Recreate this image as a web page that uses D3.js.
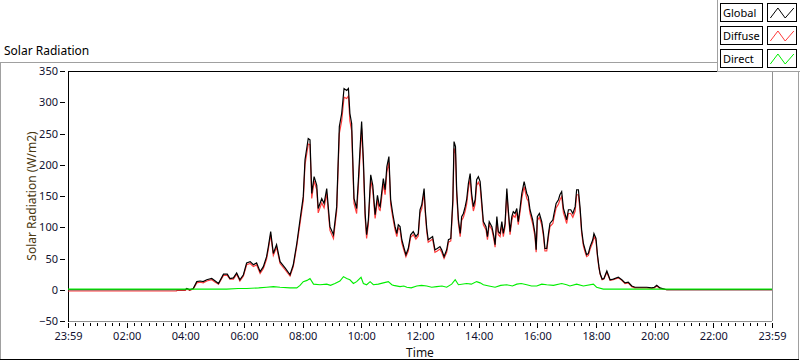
<!DOCTYPE html>
<html>
<head>
<meta charset="utf-8">
<script src="https://cdn.jsdelivr.net/npm/d3@7"></script>
<style>
body { margin: 0; background: #fff; }
svg { display: block; font-family: "Noto Sans", sans-serif; }
</style>
</head>
<body>
<div id="chart"></div>
<script>
// values, time in hours after 23:59 of the day before
var timeHours = [0, 3.70, 3.72, 4.00, 4.05, 4.15, 4.27, 4.39, 4.50, 4.61, 4.73, 4.90, 5.02, 5.13, 5.30, 5.43, 5.52, 5.64, 5.75, 5.86, 5.98,
  6.09, 6.21, 6.32, 6.43, 6.55, 6.66, 6.77, 6.83, 6.91, 7.00, 7.11, 7.23, 7.40, 7.57, 7.68, 7.80, 7.91, 8.02, 8.08, 8.19, 8.25,
  8.31, 8.39, 8.48, 8.53, 8.65, 8.73, 8.82, 8.93, 9.05, 9.16, 9.25, 9.33, 9.41, 9.50, 9.56, 9.61, 9.67, 9.75, 9.84, 9.90, 9.96,
  10.01, 10.07, 10.13, 10.18, 10.24, 10.32, 10.39, 10.47, 10.55, 10.61, 10.64, 10.69, 10.75, 10.81, 10.87, 10.94, 11.00, 11.07,
  11.15, 11.21, 11.26, 11.32, 11.38, 11.46, 11.52, 11.60, 11.68, 11.77, 11.86, 11.94, 12.00, 12.06, 12.14, 12.18, 12.23, 12.28,
  12.34, 12.43, 12.51, 12.59, 12.68, 12.74, 12.82, 12.91, 12.97, 13.05, 13.12, 13.16, 13.21, 13.25, 13.31, 13.37, 13.42, 13.48,
  13.54, 13.59, 13.65, 13.71, 13.76, 13.82, 13.88, 13.93, 13.99, 14.05, 14.10, 14.16, 14.25, 14.30, 14.36, 14.45, 14.52, 14.56,
  14.62, 14.67, 14.73, 14.79, 14.84, 14.90, 14.96, 15.01, 15.07, 15.13, 15.18, 15.24, 15.30, 15.35, 15.41, 15.47, 15.55, 15.64,
  15.69, 15.75, 15.84, 15.92, 15.96, 16.00, 16.07, 16.15, 16.21, 16.26, 16.32, 16.38, 16.43, 16.53, 16.57, 16.64, 16.72, 16.77,
  16.83, 16.89, 16.94, 17.00, 17.06, 17.14, 17.21, 17.29, 17.34, 17.40, 17.46, 17.51, 17.57, 17.63, 17.68, 17.74, 17.80, 17.89,
  17.93, 18.00, 18.05, 18.10, 18.14, 18.21, 18.27, 18.37, 18.48, 18.59, 18.76, 18.88, 18.99, 19.10, 19.22, 19.33, 19.73, 19.90,
  19.99, 20.07, 20.18, 20.41, 24]

var globalVals = [0, 0, 0, 0, 2, 0, 2, 13, 14, 13, 16, 18, 14, 10, 25, 25, 18, 19, 27, 16, 24,
  43, 45, 40, 43, 29, 37, 53, 69, 93, 58, 72, 45, 35, 24, 40, 74, 112, 149, 208, 242, 240,
  154, 181, 167, 130, 146, 138, 162, 101, 88, 133, 261, 282, 322, 319, 322, 282, 266, 146, 130, 176, 229,
  269, 208, 122, 88, 112, 184, 167, 120, 151, 135, 133, 154, 178, 160, 197, 213, 144, 122,
  101, 90, 104, 101, 80, 66, 56, 66, 88, 93, 85, 90, 128, 136, 162, 128, 98, 80,
  82, 85, 64, 66, 69, 64, 53, 64, 80, 82, 144, 237, 229, 160, 112, 90, 117, 122,
  133, 144, 170, 186, 154, 133, 144, 176, 181, 173, 144, 109, 101, 85, 109, 101, 85, 72,
  117, 93, 90, 109, 90, 106, 162, 128, 93, 117, 125, 122, 130, 109, 130, 154, 173, 154,
  149, 128, 112, 90, 64, 117, 122, 109, 90, 66, 66, 90, 106, 112, 122, 138, 144, 152,
  157, 130, 122, 112, 128, 128, 122, 133, 160, 160, 130, 96, 74, 64, 56, 58, 69, 80,
  90, 82, 56, 37, 26, 17, 18, 30, 16, 17, 20, 16, 11, 12, 6, 4, 4, 3,
  4, 7, 3, 0, 0]

var diffuseVals = [-2, -2, -1, -1, 1, -1, 1, 11, 12, 11, 14, 16, 12, 9, 23, 23, 17, 17, 25, 14, 22,
  40, 42, 37, 40, 26, 34, 49, 65, 88, 55, 68, 42, 32, 22, 37, 70, 106, 142, 200, 233, 232,
  146, 174, 160, 123, 139, 131, 154, 95, 82, 126, 250, 270, 308, 306, 310, 270, 254, 138, 122, 167, 218,
  258, 198, 115, 82, 105, 175, 159, 114, 143, 128, 127, 146, 170, 152, 188, 204, 137, 116,
  96, 85, 99, 96, 75, 62, 53, 62, 84, 88, 81, 86, 122, 130, 155, 122, 93, 76,
  78, 81, 60, 62, 65, 60, 50, 60, 76, 78, 137, 226, 218, 152, 106, 85, 111, 116,
  126, 137, 162, 177, 146, 126, 137, 167, 172, 165, 137, 104, 96, 80, 104, 96, 80, 68,
  111, 88, 85, 104, 85, 101, 154, 122, 88, 111, 119, 116, 124, 104, 124, 146, 165, 146,
  142, 122, 106, 85, 60, 111, 116, 104, 85, 62, 62, 85, 101, 106, 116, 131, 137, 144,
  149, 123, 116, 106, 122, 122, 116, 126, 152, 152, 124, 91, 70, 60, 53, 55, 65, 76,
  86, 78, 53, 35, 25, 16, 17, 28, 15, 16, 19, 15, 10, 11, 5, 3, 3, 2,
  3, 6, 2, 0, 0]

var directHours = [0, 3.82, 5.41, 5.80, 6.09, 6.50, 6.77, 7.00, 7.23, 7.57, 7.80, 7.91, 8.02, 8.15, 8.25, 8.37, 8.59, 8.82,
  8.95, 9.10, 9.27, 9.39, 9.50, 9.61, 9.73, 9.84, 9.99, 10.07, 10.18, 10.30, 10.41, 10.58, 10.75, 10.92, 11.04, 11.10,
  11.32, 11.45, 11.55, 11.70, 11.89, 12.05, 12.23, 12.40, 12.57, 12.75, 12.91, 13.08, 13.20, 13.31, 13.59, 13.75, 13.93,
  14.05, 14.16, 14.35, 14.56, 14.75, 14.96, 15.15, 15.30, 15.45, 15.64, 15.80, 15.98, 16.15, 16.32, 16.55, 16.83, 17.00,
  17.11, 17.34, 17.57, 17.91, 18.02, 18.25, 24]
var directVals = [1, 1, 1, 2, 2, 3, 4, 5, 4, 3, 3, 7, 13, 15, 18, 9, 8, 9,
  7, 10, 14, 21, 18, 16, 10, 13, 20, 10, 8, 13, 8, 9, 11, 13, 8, 7,
  5, 6, 4, 3, 6, 7, 6, 4, 5, 6, 4, 9, 16, 8, 10, 9, 13,
  11, 8, 6, 4, 7, 8, 6, 9, 10, 8, 6, 6, 9, 8, 7, 10, 8,
  6, 9, 6, 9, 4, 1, 1]

var yTicks = [-50, 0, 50, 100, 150, 200, 250, 300, 350]
var xTickHours = [0, 2, 4, 6, 8, 10, 12, 14, 16, 18, 20, 22, 24]
var xTickLabels = ["23:59", "02:00", "04:00", "06:00", "08:00", "10:00", "12:00", "14:00", "16:00", "18:00", "20:00", "22:00", "23:59"]
var legendNames = ["Global", "Diffuse", "Direct"]
var seriesColors = ["#000000", "#ff3b3b", "#00ee00"]

var width = 800, height = 361
var plot = {left: 68, right: 772, top: 71, bottom: 321}

var svg = d3.select("#chart").append("svg")
    .attr("width", width).attr("height", height)

// outer panel frame
var frame = svg.append("g").attr("shape-rendering", "crispEdges")
frame.append("line").attr("x1", 0).attr("x2", 717).attr("y1", 62.5).attr("y2", 62.5).style("stroke", "#a0a0a0")
frame.append("line").attr("x1", 0.5).attr("x2", 0.5).attr("y1", 62).attr("y2", 360).style("stroke", "#a0a0a0")
frame.append("line").attr("x1", 798.5).attr("x2", 798.5).attr("y1", 71).attr("y2", 360).style("stroke", "#a0a0a0")
frame.append("line").attr("x1", 0).attr("x2", 799).attr("y1", 359.5).attr("y2", 359.5).style("stroke", "#000")

svg.append("text").attr("x", 4).attr("y", 55)
    .style("font-size", "12px").style("fill", "#000")
    .text("Solar Radiation")

var x = d3.scaleLinear().domain([0, 24]).range([plot.left, plot.right])
var y = d3.scaleLinear().domain([-50, 350]).range([plot.bottom, plot.top])

// minor ticks every 15 minutes
svg.append("g")
    .attr("transform", "translate(0," + (plot.bottom + 2) + ")")
    .call(d3.axisBottom(x).tickValues(d3.range(0, 24.01, 0.25)).tickSize(3).tickFormat(""))
    .call(g => g.select(".domain").remove())
    .attr("shape-rendering", "crispEdges")

var xAxis = svg.append("g")
    .attr("transform", "translate(0," + (plot.bottom + 2) + ")")
    .call(d3.axisBottom(x).tickValues(xTickHours).tickSize(5).tickPadding(4)
        .tickFormat((d, i) => xTickLabels[i]))
xAxis.select(".domain").remove()
xAxis.attr("shape-rendering", "crispEdges")
xAxis.selectAll("text").style("font-size", "11px").style("fill", "#101030").style("font-family", "Noto Sans")

var yAxis = svg.append("g")
    .attr("transform", "translate(65,0)")
    .call(d3.axisLeft(y).tickValues(yTicks).tickSize(5).tickPadding(2))
yAxis.select(".domain").remove()
yAxis.attr("shape-rendering", "crispEdges")
yAxis.selectAll("text").style("font-size", "11px").style("fill", "#101030").style("font-family", "Noto Sans")

svg.append("text")
    .attr("transform", "translate(36," + (plot.top + plot.bottom) / 2 + ") rotate(-90)")
    .attr("text-anchor", "middle")
    .style("font-size", "12px").style("fill", "#4a3810")
    .text("Solar Radiation (W/m2)")

svg.append("text")
    .attr("x", (plot.left + plot.right) / 2).attr("y", 357)
    .attr("text-anchor", "middle")
    .style("font-size", "12px").style("fill", "#101010")
    .text("Time")

// plot area border
var box = svg.append("g").attr("shape-rendering", "crispEdges")
box.append("line").attr("x1", plot.left).attr("x2", plot.right).attr("y1", plot.bottom + 0.5).attr("y2", plot.bottom + 0.5).style("stroke", "#909090")
box.append("line").attr("x1", plot.right + 0.5).attr("x2", plot.right + 0.5).attr("y1", plot.top).attr("y2", plot.bottom).style("stroke", "#909090")
box.append("line").attr("x1", plot.left).attr("x2", plot.right).attr("y1", plot.top + 0.5).attr("y2", plot.top + 0.5).style("stroke", "#000")
box.append("line").attr("x1", plot.left + 0.5).attr("x2", plot.left + 0.5).attr("y1", plot.top).attr("y2", plot.bottom + 1).style("stroke", "#000")

var line = d3.line().x(d => x(d[0])).y(d => y(d[1]))

var lines = svg.append("g")
lines.append("path").datum(d3.zip(timeHours, diffuseVals))
    .attr("d", line).style("fill", "none").style("stroke", seriesColors[1]).style("stroke-width", 1.2)
lines.append("path").datum(d3.zip(timeHours, globalVals))
    .attr("d", line).style("fill", "none").style("stroke", seriesColors[0]).style("stroke-width", 1.2)
lines.append("path").datum(d3.zip(directHours, directVals))
    .attr("d", line).style("fill", "none").style("stroke", seriesColors[2]).style("stroke-width", 1.1)

// legend
var legend = svg.append("g").attr("shape-rendering", "crispEdges")
legend.append("rect").attr("x", 717).attr("y", 0).attr("width", 83).attr("height", 71).style("fill", "#fff")
legend.append("line").attr("x1", 717.5).attr("x2", 717.5).attr("y1", 0).attr("y2", 71).style("stroke", "#a0a0a0")
legend.append("line").attr("x1", 717).attr("x2", 800).attr("y1", 71.5).attr("y2", 71.5).style("stroke", "#a0a0a0")

var swatch = d3.scaleLinear().domain([0, 1]).range([0, 27])
legendNames.forEach(function(name, i) {
  var top = 3 + i * 23
  legend.append("rect").attr("x", 720.5).attr("y", top + 0.5).attr("width", 42).attr("height", 18)
      .style("fill", "#fff").style("stroke", "#000")
  legend.append("text").attr("x", 723).attr("y", top + 14)
      .style("font-size", "11px").style("fill", "#000").text(name)
  legend.append("rect").attr("x", 767.5).attr("y", top + 0.5).attr("width", 29).attr("height", 18)
      .style("fill", "#fff").style("stroke", "#000")
  legend.append("path")
      .attr("shape-rendering", "auto")
      .attr("d", d3.line()([[769 + swatch(0.05), top + 15], [769 + swatch(0.33), top + 5], [769 + swatch(0.6), top + 15], [769 + swatch(0.92), top + 5]]))
      .style("fill", "none").style("stroke", seriesColors[i]).style("stroke-width", 1)
})
</script>
</body>
</html>
